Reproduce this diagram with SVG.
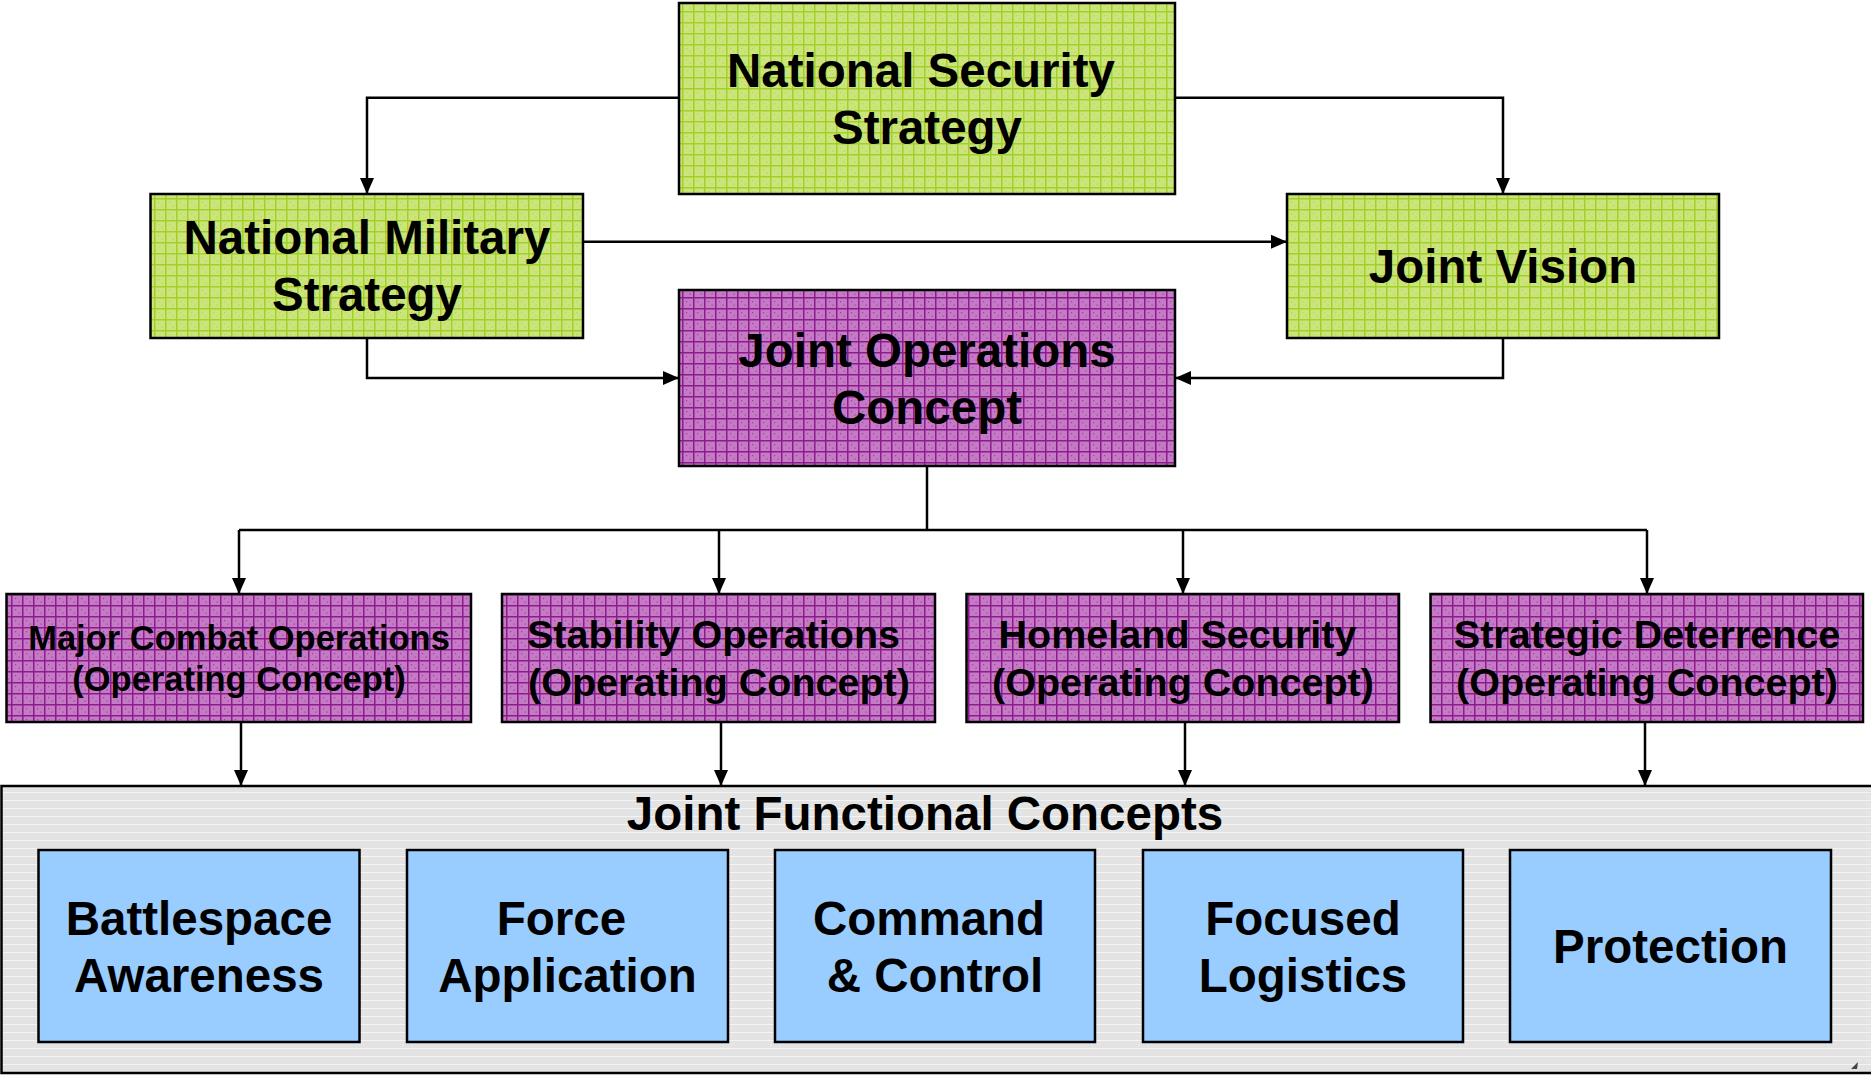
<svg xmlns="http://www.w3.org/2000/svg" width="1871" height="1075" viewBox="0 0 1871 1075">
<style>
.t{font-family:"Liberation Sans",Arial,sans-serif;font-weight:bold;fill:#000;text-anchor:middle}
.big{font-size:47.5px}
.mid{font-size:39.5px}
.sm{font-size:34.5px}
.box{stroke:#000;stroke-width:2.5}
.con{fill:none;stroke:#000;stroke-width:2.5}
</style>
<defs>
<pattern id="pg" width="11" height="11" patternUnits="userSpaceOnUse">
<rect width="11" height="11" fill="#cbe57c"/>
<rect width="11" height="1.5" fill="#a2cf28"/>
<rect width="1.5" height="11" fill="#a2cf28"/>
<rect x="4" y="4" width="1.2" height="1.2" fill="#b5d94e"/>
<rect x="7.5" y="7.5" width="1.2" height="1.2" fill="#b5d94e"/>
</pattern>
<pattern id="pp" width="11" height="11" patternUnits="userSpaceOnUse">
<rect width="11" height="11" fill="#c47ac4"/>
<rect width="11" height="1.5" fill="#8c1c8c"/>
<rect width="1.5" height="11" fill="#8c1c8c"/>
<rect x="4" y="4" width="1.2" height="1.2" fill="#a040a0"/>
<rect x="7.5" y="7.5" width="1.2" height="1.2" fill="#a040a0"/>
</pattern>
<pattern id="pgr" width="8" height="8" patternUnits="userSpaceOnUse">
<rect width="8" height="8" fill="#e3e3e3"/>
<rect width="8" height="1" fill="#f4f4f4"/>
<rect x="3" y="4" width="1" height="1" fill="#f0f0f0"/>
</pattern>
<marker id="ah" markerUnits="userSpaceOnUse" markerWidth="16" markerHeight="16" viewBox="0 0 16 14" refX="16" refY="7" orient="auto">
<path d="M0,0 L16,7 L0,14 Z" fill="#000"/>
</marker>
</defs>

<g id="container">
<rect x="1.5" y="786" width="1875" height="287" fill="url(#pgr)" class="box"/>
<text class="t big" x="925" y="830">Joint Functional Concepts</text>
<path d="M1851,1069 L1858,1062 L1857,1069 Z" fill="#444"/>
</g>

<g id="connectors">
<path class="con" d="M679,97.7 H367 V194" marker-end="url(#ah)"/>
<path class="con" d="M1175,97.7 H1503 V194" marker-end="url(#ah)"/>
<path class="con" d="M583,241.7 H1287" marker-end="url(#ah)"/>
<path class="con" d="M367,338 V378 H679" marker-end="url(#ah)"/>
<path class="con" d="M1503,338 V378 H1175" marker-end="url(#ah)"/>
<path class="con" d="M927,466 V530"/>
<path class="con" d="M239,530 H1647"/>
<path class="con" d="M239,530 V594" marker-end="url(#ah)"/>
<path class="con" d="M719,530 V594" marker-end="url(#ah)"/>
<path class="con" d="M1183,530 V594" marker-end="url(#ah)"/>
<path class="con" d="M1647,530 V594" marker-end="url(#ah)"/>
<path class="con" d="M241,722 V786" marker-end="url(#ah)"/>
<path class="con" d="M721,722 V786" marker-end="url(#ah)"/>
<path class="con" d="M1185,722 V786" marker-end="url(#ah)"/>
<path class="con" d="M1645,722 V786" marker-end="url(#ah)"/>
</g>

<g id="nss">
<rect x="679" y="3" width="496" height="191" fill="url(#pg)" class="box"/>
<text class="t big" x="921" y="87">National Security</text>
<text class="t big" x="927" y="144">Strategy</text>
</g>

<g id="nms">
<rect x="150.5" y="194" width="432.5" height="144" fill="url(#pg)" class="box"/>
<text class="t big" x="367" y="254">National Military</text>
<text class="t big" x="367" y="311">Strategy</text>
</g>

<g id="jv">
<rect x="1287" y="194" width="432" height="144" fill="url(#pg)" class="box"/>
<text class="t big" x="1503" y="283">Joint Vision</text>
</g>

<g id="joc">
<rect x="679" y="290" width="496" height="176" fill="url(#pp)" class="box"/>
<text class="t big" x="927" y="367">Joint Operations</text>
<text class="t big" x="927" y="424">Concept</text>
</g>

<g id="mco">
<rect x="6.5" y="594" width="464.5" height="128" fill="url(#pp)" class="box"/>
<text class="t sm" x="239" y="650">Major Combat Operations</text>
<text class="t sm" x="239" y="691">(Operating Concept)</text>
</g>

<g id="so">
<rect x="502" y="594" width="433" height="128" fill="url(#pp)" class="box"/>
<text class="t mid" x="713.5" y="648">Stability Operations</text>
<text class="t mid" x="719" y="696">(Operating Concept)</text>
</g>

<g id="hs">
<rect x="966.5" y="594" width="432.5" height="128" fill="url(#pp)" class="box"/>
<text class="t mid" x="1177.5" y="648">Homeland Security</text>
<text class="t mid" x="1183" y="696">(Operating Concept)</text>
</g>

<g id="sd">
<rect x="1430.5" y="594" width="432.5" height="128" fill="url(#pp)" class="box"/>
<text class="t mid" x="1647" y="648">Strategic Deterrence</text>
<text class="t mid" x="1647" y="696">(Operating Concept)</text>
</g>

<g id="ba">
<rect x="38.5" y="850" width="321" height="192" fill="#99ccff" class="box"/>
<text class="t big" x="199" y="935">Battlespace</text>
<text class="t big" x="199" y="992">Awareness</text>
</g>

<g id="fa">
<rect x="407" y="850" width="321" height="192" fill="#99ccff" class="box"/>
<text class="t big" x="561.5" y="935">Force</text>
<text class="t big" x="567.5" y="992">Application</text>
</g>

<g id="cc">
<rect x="775" y="850" width="320" height="192" fill="#99ccff" class="box"/>
<text class="t big" x="929" y="935">Command</text>
<text class="t big" x="935" y="992">&amp; Control</text>
</g>

<g id="fl">
<rect x="1143" y="850" width="320" height="192" fill="#99ccff" class="box"/>
<text class="t big" x="1303" y="935">Focused</text>
<text class="t big" x="1303" y="992">Logistics</text>
</g>

<g id="pr">
<rect x="1510" y="850" width="321" height="192" fill="#99ccff" class="box"/>
<text class="t big" x="1670.5" y="963">Protection</text>
</g>
</svg>
